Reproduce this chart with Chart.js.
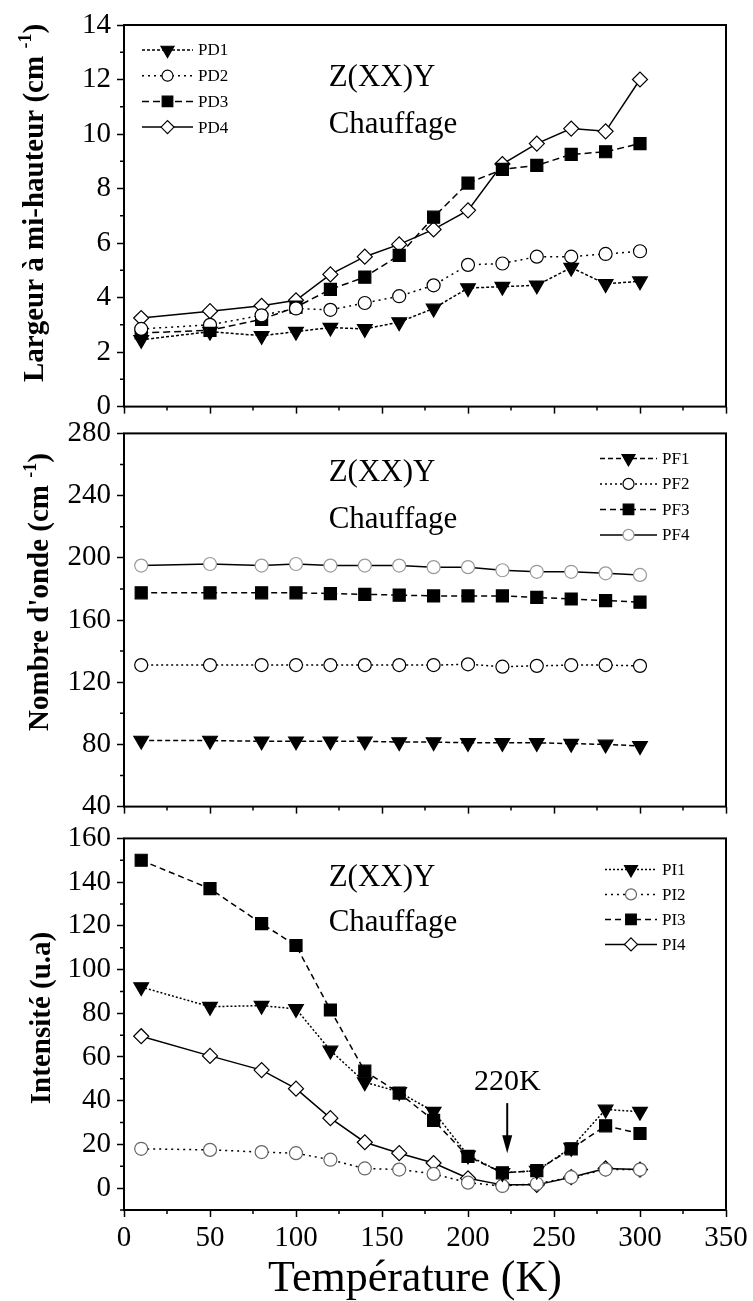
<!DOCTYPE html>
<html>
<head>
<meta charset="utf-8">
<script src="https://cdn.jsdelivr.net/npm/chart.js@4.4.1/dist/chart.umd.min.js"></script>
<style>
  body { margin: 0; background: #fff; }
  #page { position: relative; width: 753px; height: 1301px; overflow: hidden; }
  canvas { position: absolute; left: 0; }
</style>
</head>
<body>
<div id="page">
  <canvas id="c1" width="753" height="430" style="top:0"></canvas>
  <canvas id="c2" width="753" height="420" style="top:410px"></canvas>
  <canvas id="c3" width="753" height="486" style="top:815px"></canvas>
</div>
<script>
// temperatures (K)
const temps = [10, 50, 80, 100, 120, 140, 160, 180, 200, 220, 240, 260, 280, 300];

// largeur a mi-hauteur (cm-1)
const pd1 = [2.45, 2.75, 2.6, 2.75, 2.9, 2.85, 3.1, 3.6, 4.35, 4.4, 4.45, 5.1, 4.5, 4.6];
const pd2 = [2.85, 3.0, 3.35, 3.6, 3.55, 3.8, 4.05, 4.45, 5.2, 5.25, 5.5, 5.5, 5.6, 5.7];
const pd3 = [2.7, 2.8, 3.2, 3.65, 4.3, 4.75, 5.55, 6.95, 8.2, 8.7, 8.85, 9.25, 9.35, 9.65];
const pd4 = [3.25, 3.5, 3.7, 3.9, 4.85, 5.5, 5.95, 6.5, 7.2, 8.9, 9.65, 10.2, 10.1, 12.0];

// nombre d'onde (cm-1)
const pf1 = [82.5, 82.5, 82, 82, 82, 82, 81.5, 81.5, 81, 81, 81, 80.5, 80, 79];
const pf2 = [131, 131, 131, 131, 131, 131, 131, 131, 131.5, 130, 130.5, 131, 131, 130.5];
const pf3 = [177.5, 177.5, 177.5, 177.5, 177, 176.5, 176, 175.5, 175.5, 175.5, 174.5, 173.5, 172.5, 171.5];
const pf4 = [195, 196, 195, 196, 195, 195, 195, 194, 194, 192, 191, 191, 190, 189];

// intensite (u.a)
const pi1 = [92, 83, 83.5, 82, 63, 48.5, 44, 35, 15, 7, 8, 18.5, 36, 35];
const pi2 = [18, 17.5, 16.5, 16, 13, 9, 8.5, 6.5, 2.5, 1, 2, 5, 8.5, 8.5];
const pi3 = [150, 137, 121, 111, 81.5, 53.5, 43.5, 31, 14.5, 7, 8, 18, 28.5, 25];
const pi4 = [69.5, 60.5, 54, 45.5, 32, 21, 16, 11.5, 4.5, 1.5, 1.5, 5, 9, 8.5];

// ticks
const xTicks = [0, 50, 100, 150, 200, 250, 300, 350];
const xMinor = [25, 75, 125, 175, 225, 275, 325];
const pdTicks = [0, 2, 4, 6, 8, 10, 12, 14];
const pdMinor = [1, 3, 5, 7, 9, 11, 13];
const pfTicks = [40, 80, 120, 160, 200, 240, 280];
const pfMinor = [60, 100, 140, 180, 220, 260];
const piTicks = [0, 20, 40, 60, 80, 100, 120, 140, 160];
const piMinor = [-10, 10, 30, 50, 70, 90, 110, 130, 150];

const serif = '"Liberation Serif", "Times New Roman", serif';
const radii = { triangle: 8.5, circle: 6.5, rect: 8.5, rectRot: 7.5 };

function series(label, values, dash, style, fill, edge) {
  return {
    label: label,
    data: temps.map((t, i) => ({ x: t, y: values[i] })),
    borderColor: '#000',
    borderWidth: 1.5,
    borderDash: dash,
    pointStyle: style,
    pointRotation: style === 'triangle' ? 180 : 0,
    pointRadius: radii[style],
    pointBackgroundColor: fill,
    pointBorderColor: edge || '#000',
    pointBorderWidth: 1.2,
    tension: 0
  };
}

// frame, minor ticks, titles, notes, legend
const deco = {
  id: 'deco',
  afterDraw(chart, args, o) {
    const ctx = chart.ctx, a = chart.chartArea;
    const xs = chart.scales.x, ys = chart.scales.y;
    ctx.save();
    ctx.strokeStyle = '#000';
    ctx.fillStyle = '#000';
    ctx.lineWidth = 2;
    ctx.strokeRect(a.left, a.top, a.right - a.left, a.bottom - a.top);

    ctx.lineWidth = 1.5;
    ctx.beginPath();
    xMinor.forEach(v => {
      const p = xs.getPixelForValue(v);
      ctx.moveTo(p, a.bottom); ctx.lineTo(p, a.bottom + 4);
    });
    o.yMinor.forEach(v => {
      const p = ys.getPixelForValue(v);
      ctx.moveTo(a.left, p); ctx.lineTo(a.left - 4, p);
    });
    ctx.stroke();

    // y title with superscript
    const t = o.yTitle;
    ctx.save();
    ctx.translate(t.x, t.y);
    ctx.rotate(-Math.PI / 2);
    ctx.textBaseline = 'middle';
    ctx.textAlign = 'left';
    const big = 'bold 29px ' + serif, small = 'bold 18px ' + serif;
    ctx.font = big;
    const w1 = ctx.measureText(t.parts[0]).width;
    const w3 = t.parts[2] ? ctx.measureText(t.parts[2]).width : 0;
    ctx.font = small;
    const w2 = t.parts[1] ? ctx.measureText(t.parts[1]).width : 0;
    let x = -(w1 + w2 + w3) / 2;
    ctx.font = big;
    ctx.fillText(t.parts[0], x, 0);
    x += w1;
    if (t.parts[1]) {
      ctx.font = small;
      ctx.fillText(t.parts[1], x, -10);
      x += w2;
      ctx.font = big;
      ctx.fillText(t.parts[2], x, 0);
    }
    ctx.restore();

    // x title
    if (o.xTitle) {
      ctx.font = '44px ' + serif;
      ctx.textAlign = 'center';
      ctx.textBaseline = 'middle';
      ctx.fillText(o.xTitle.text, o.xTitle.x, o.xTitle.y);
    }

    // notes in data coords
    ctx.textBaseline = 'middle';
    o.notes.forEach(n => {
      ctx.font = n.size + 'px ' + serif;
      ctx.textAlign = n.align || 'left';
      ctx.fillText(n.text, xs.getPixelForValue(n.x), ys.getPixelForValue(n.y));
    });

    if (o.arrow) {
      const ax = xs.getPixelForValue(o.arrow.x);
      const y1 = ys.getPixelForValue(o.arrow.y1), y2 = ys.getPixelForValue(o.arrow.y2);
      ctx.lineWidth = 2;
      ctx.beginPath();
      ctx.moveTo(ax, y1); ctx.lineTo(ax, y2 - 10);
      ctx.stroke();
      ctx.beginPath();
      ctx.moveTo(ax - 5, y2 - 18); ctx.lineTo(ax, y2); ctx.lineTo(ax + 5, y2 - 18);
      ctx.closePath();
      ctx.fill();
    }

    // legend
    const L = o.legend;
    ctx.font = '17px ' + serif;
    ctx.textAlign = 'left';
    chart.data.datasets.forEach((d, i) => {
      const y = a.top + L.top + i * L.gap;
      const x1 = a.left + L.x1, x2 = a.left + L.x2;
      ctx.strokeStyle = '#000';
      ctx.lineWidth = 1.5;
      ctx.setLineDash(d.borderDash);
      ctx.beginPath();
      ctx.moveTo(x1, y); ctx.lineTo(x2, y);
      ctx.stroke();
      ctx.setLineDash([]);
      ctx.fillStyle = d.pointBackgroundColor;
      ctx.strokeStyle = d.pointBorderColor;
      ctx.lineWidth = 1.2;
      Chart.helpers.drawPoint(ctx, {
        pointStyle: d.pointStyle, rotation: d.pointRotation,
        radius: d.pointRadius - 1, borderWidth: 1.2
      }, (x1 + x2) / 2, y);
      ctx.fillStyle = '#000';
      ctx.fillText(d.label, x2 + 5, y + 1);
    });
    ctx.restore();
  }
};

function panel(id, cfg) {
  return new Chart(document.getElementById(id), {
    type: 'line',
    data: { datasets: cfg.datasets },
    plugins: [deco],
    options: {
      responsive: false,
      animation: false,
      layout: { padding: { top: cfg.top, right: 27, left: 0, bottom: 0 } },
      plugins: {
        legend: { display: false },
        tooltip: { enabled: false },
        deco: cfg.deco
      },
      scales: {
        x: {
          type: 'linear', min: 0, max: 350,
          afterBuildTicks: s => { s.ticks = xTicks.map(v => ({ value: v })); },
          afterFit: s => { s.height = cfg.xHeight; },
          border: { display: false },
          grid: { drawOnChartArea: false, tickLength: 7, tickWidth: 1.5, tickColor: '#000' },
          ticks: {
            color: '#000', padding: 4, maxRotation: 0,
            font: { family: serif, size: 29 },
            callback: v => cfg.xLabels ? v : ''
          }
        },
        y: {
          min: cfg.yMin, max: cfg.yMax,
          afterBuildTicks: s => { s.ticks = cfg.yTicks.map(v => ({ value: v })); },
          afterFit: s => { s.width = 124; },
          border: { display: false },
          grid: { drawOnChartArea: false, tickLength: 7, tickWidth: 1.5, tickColor: '#000' },
          ticks: { color: '#000', padding: 6, font: { family: serif, size: 29 } }
        }
      }
    }
  });
}

function drawAll() {
  panel('c1', {
    top: 25, xHeight: 23, yMin: 0, yMax: 14, yTicks: pdTicks, xLabels: false,
    datasets: [
      series('PD1', pd1, [3, 2], 'triangle', '#000'),
      series('PD2', pd2, [2, 4], 'circle', '#fff'),
      series('PD3', pd3, [7, 4], 'rect', '#000'),
      series('PD4', pd4, [], 'rectRot', '#fff')
    ],
    deco: {
      yMinor: pdMinor,
      yTitle: { x: 36, y: 203, parts: ['Largeur à mi-hauteur (cm ', '-1', ')'] },
      notes: [
        { text: 'Z(XX)Y', x: 119, y: 12.05, size: 31 },
        { text: 'Chauffage', x: 119, y: 10.35, size: 31 }
      ],
      legend: { x1: 18, x2: 69, top: 25, gap: 25.7 }
    }
  });

  panel('c2', {
    top: 17, xHeight: 23, yMin: 40, yMax: 280, yTicks: pfTicks, xLabels: false,
    datasets: [
      series('PF1', pf1, [5, 3], 'triangle', '#000'),
      series('PF2', pf2, [2, 3], 'circle', '#fff'),
      series('PF3', pf3, [6, 4], 'rect', '#000'),
      series('PF4', pf4, [], 'circle', '#fff', '#999')
    ],
    deco: {
      yMinor: pfMinor,
      yTitle: { x: 41, y: 182, parts: ["Nombre d'onde (cm ", '-1', ')'] },
      notes: [
        { text: 'Z(XX)Y', x: 119, y: 254.8, size: 31 },
        { text: 'Chauffage', x: 119, y: 224.6, size: 31 }
      ],
      legend: { x1: 476, x2: 533, top: 25, gap: 25.5 }
    }
  });

  panel('c3', {
    top: 17, xHeight: 91, yMin: -10, yMax: 160, yTicks: piTicks, xLabels: true,
    datasets: [
      series('PI1', pi1, [2, 2], 'triangle', '#000'),
      series('PI2', pi2, [2, 4], 'circle', '#fff', '#666'),
      series('PI3', pi3, [6, 4], 'rect', '#000'),
      series('PI4', pi4, [], 'rectRot', '#fff')
    ],
    deco: {
      yMinor: piMinor,
      yTitle: { x: 43, y: 203, parts: ['Intensité (u.a)'] },
      xTitle: { text: 'Température (K)', x: 415, y: 464 },
      notes: [
        { text: 'Z(XX)Y', x: 119, y: 142, size: 31 },
        { text: 'Chauffage', x: 119, y: 121.4, size: 31 },
        { text: '220K', x: 222.8, y: 48.7, size: 30, align: 'center' }
      ],
      arrow: { x: 222.8, y1: 38.9, y2: 16 },
      legend: { x1: 481, x2: 533, top: 31, gap: 25 }
    }
  });
}

Promise.all([
  document.fonts.load('29px "Liberation Serif"'),
  document.fonts.load('bold 29px "Liberation Serif"')
]).then(drawAll, drawAll);
</script>
</body>
</html>
